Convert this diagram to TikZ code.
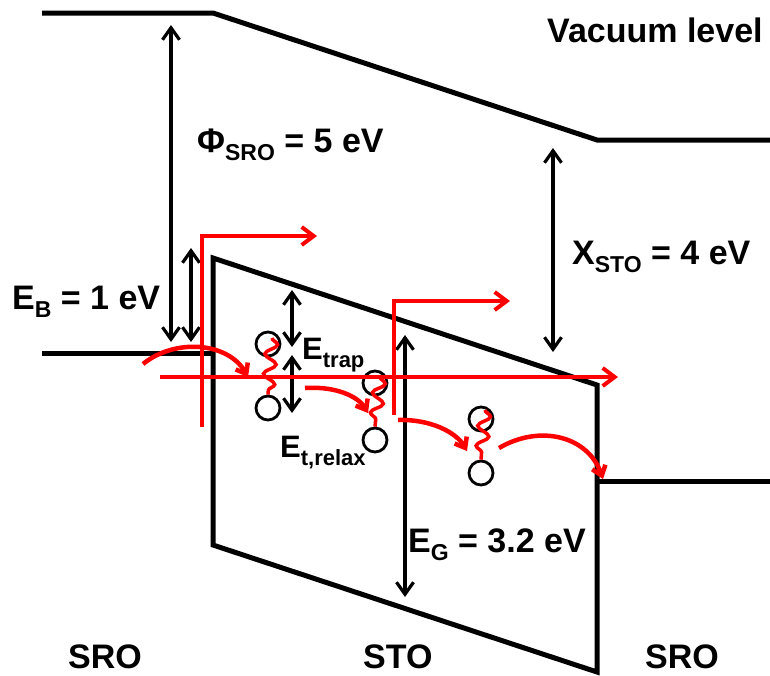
\documentclass[tikz,border=0pt]{standalone}
\usepackage{fontspec}
\setmainfont{Liberation Sans}
\usetikzlibrary{arrows.meta, decorations.pathmorphing}

\newcommand{\lowidx}[2][23]{\raisebox{-8pt}{\fontsize{#1}{#1}\selectfont #2}}

\begin{document}
\begin{tikzpicture}[
  x=1pt, y=-1pt,
  every node/.style={font=\fontsize{34}{38}\selectfont\bfseries, inner sep=0pt},
  small/.style={font=\fontsize{31}{34}\selectfont\bfseries},
  band/.style={line width=5pt, line join=miter},
  dim/.style={{Straight Barb[length=12pt,width=17pt]}-{Straight Barb[length=12pt,width=17pt]}, line width=3.2pt},
  elec/.style={red, line width=4pt, -{Straight Barb[length=12pt,width=18pt]}},
  hop/.style={red, line width=4.5pt, -{Straight Barb[length=9pt,width=14pt]}},
  wave/.style={red, line width=3.5pt, decorate, decoration={snake, segment length=20pt, amplitude=6pt}},
  trap/.style={circle, draw, line width=2.8pt, minimum size=24pt}
]
\useasboundingbox (0,0) rectangle (770,675);

% band edges
\coordinate (vacL) at (42,13);
\coordinate (vacA) at (213,13);
\coordinate (vacB) at (597,140);
\coordinate (vacR) at (770,140);
\coordinate (efL) at (42,353);
\coordinate (efA) at (213,353);
\coordinate (cbA) at (213,258);
\coordinate (cbB) at (597,385);
\coordinate (vbA) at (213,545);
\coordinate (vbB) at (597,672);
\coordinate (efB) at (597,481);
\coordinate (efR) at (770,481);

\draw[band] (vacL) -- (vacA) -- (vacB) -- (vacR);
\draw[band] (efL) -- (efA);
\draw[band] (cbA) -- (cbB) -- (vbB) -- (vbA) -- cycle;
\draw[band] (efB) -- (efR);

% energy differences
\draw[dim] (171,25) -- (171,342);
\draw[dim] (191,248) -- (191,342);
\draw[dim] (553,148) -- (553,352);
\draw[dim] (292,290) -- (292,347);
\draw[dim] (292,355) -- (292,413);
\draw[dim] (405,335) -- (405,597);

% traps
\node[trap] (t1) at (268,344) {};
\node[trap] (t1r) at (268,408) {};
\node[trap] (t2) at (375,383) {};
\node[trap] (t2r) at (375,440) {};
\node[trap] (t3) at (481,419) {};
\node[trap] (t3r) at (481,473) {};

% labels
\node[anchor=base west] (vac) at (547,42) {Vacuum level};
\node[anchor=base west] (phi) at (197,152) {Φ\lowidx{SRO} = 5 eV};
\node[anchor=base west] (eb) at (12,309) {E\lowidx{B} = 1 eV};
\node[anchor=base west] (chi) at (572,264) {X\lowidx{STO} = 4 eV};
\node[small, anchor=base west] (etrap) at (302,359) {E\lowidx[22]{trap}};
\node[small, anchor=base west] (erelax) at (280,457) {E\lowidx[22]{t,relax}};
\node[anchor=base west] (eg) at (408,552) {E\lowidx{G} = 3.2 eV};
\node[anchor=base west] (sroL) at (68,668) {SRO};
\node[anchor=base west] (sto) at (363,668) {STO};
\node[anchor=base west] (sroR) at (645,668) {SRO};

% electron paths
\draw[elec] (202,427) |- (317,236);
\draw[elec] (394,415) |- (510,301);
\draw[elec] (160,377) -- (618,377);

\draw[hop] (143,364) .. controls (175,338) and (228,342) .. (248,377);
\draw[hop] (305,388) .. controls (335,386) and (358,396) .. (368,413);
\draw[hop] (398,420) .. controls (430,419) and (456,432) .. (467,451);
\draw[hop] (499,448) .. controls (540,424) and (588,436) .. (603,479);

\draw[wave] (272,338) -- (t1r.north);
\draw[wave] (380,377) -- (t2r.north);
\draw[wave] (485,410) -- (t3r.north);
\end{tikzpicture}
\end{document}
